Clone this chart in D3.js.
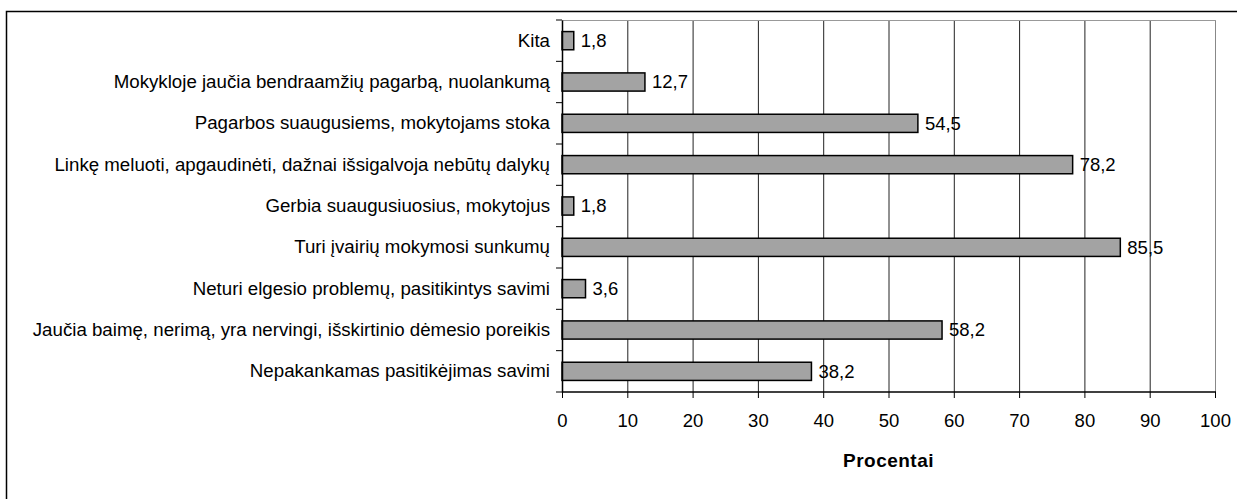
<!DOCTYPE html>
<html>
<head>
<meta charset="utf-8">
<script src="https://cdn.jsdelivr.net/npm/d3@7"></script>
<style>
  body { margin: 0; background: #fff; }
  svg { display: block; font-family: "Liberation Sans", Arial, sans-serif; }
</style>
</head>
<body>
<svg id="chart" width="1237" height="499"></svg>
<script>
// kategorijos, nuo viršaus į apačią
var categories = [
    "Kita",
    "Mokykloje jaučia bendraamžių pagarbą, nuolankumą",
    "Pagarbos suaugusiems, mokytojams stoka",
    "Linkę meluoti, apgaudinėti, dažnai išsigalvoja nebūtų dalykų",
    "Gerbia suaugusiuosius, mokytojus",
    "Turi įvairių mokymosi sunkumų",
    "Neturi elgesio problemų, pasitikintys savimi",
    "Jaučia baimę, nerimą, yra nervingi, išskirtinio dėmesio poreikis",
    "Nepakankamas pasitikėjimas savimi"
];
var values = [1.8, 12.7, 54.5, 78.2, 1.8, 85.5, 3.6, 58.2, 38.2];
var xTicks = [0, 10, 20, 30, 40, 50, 60, 70, 80, 90, 100];
var xTitle = "Procentai";

var svg = d3.select("#chart");

// išorinis rėmelis (dešinė ir apačia nukirsti)
svg.append("rect")
    .attr("x", 6.5).attr("y", 11.5)
    .attr("width", 1300).attr("height", 600)
    .attr("fill", "none")
    .attr("stroke", "#000")
    .attr("stroke-width", 1.5);

var pLeft = 562, pRight = 1215, pTop = 20, pBottom = 392;

var x = d3.scaleLinear().domain([0, 100]).range([pLeft, pRight]);
var y = d3.scaleBand().domain(categories).range([pTop, pBottom]).paddingInner(0.56).paddingOuter(0.28);

// tinklelis
svg.append("g")
    .selectAll("line")
    .data(xTicks.slice(1))
    .enter().append("line")
    .attr("x1", function (d) {return x(d) + 0.5;})
    .attr("x2", function (d) {return x(d) + 0.5;})
    .attr("y1", pTop).attr("y2", pBottom)
    .attr("stroke", function (d) {return d === 100 ? "#888" : "#222";})
    .attr("stroke-width", 1);

// viršutinė ploto riba
svg.append("line")
    .attr("x1", pLeft).attr("x2", pRight + 1)
    .attr("y1", pTop + 0.5).attr("y2", pTop + 0.5)
    .attr("stroke", "#999");

// stulpeliai
svg.append("g")
    .selectAll("rect")
    .data(values)
    .enter().append("rect")
    .attr("x", x(0))
    .attr("y", function (d, i) {return y(categories[i]);})
    .attr("width", function (d) {return x(d) - x(0);})
    .attr("height", y.bandwidth())
    .attr("fill", "#a3a3a3")
    .attr("stroke", "#000")
    .attr("stroke-width", 1.5);

// reikšmės
svg.append("g")
    .selectAll("text")
    .data(values)
    .enter().append("text")
    .attr("x", function (d) {return x(d) + 7;})
    .attr("y", function (d, i) {return y(categories[i]) + y.bandwidth() / 2;})
    .attr("dy", "0.35em")
    .style("font-size", "18.5px")
    .text(function (d) {return String(d).replace(".", ",");});

// x ašis
var xAxis = d3.axisBottom(x).tickValues(xTicks).tickSize(6).tickPadding(16).tickFormat(d3.format("d"));
var gx = svg.append("g")
    .attr("transform", "translate(0," + pBottom + ")")
    .call(xAxis);
gx.select(".domain").attr("stroke", "#000").attr("stroke-width", 1.5).attr("d", "M" + pLeft + ",0H" + (pRight + 1));
gx.selectAll(".tick line").attr("stroke", "#000");
gx.selectAll("text").style("font-size", "18.5px").attr("fill", "#000").style("font-family", "Liberation Sans, Arial, sans-serif");

// y ašis
var yAxis = d3.axisLeft(y).tickSize(0).tickPadding(12);
var gy = svg.append("g")
    .attr("transform", "translate(" + pLeft + ",0)")
    .call(yAxis);
gy.select(".domain").attr("stroke", "#000").attr("stroke-width", 1.5);
gy.selectAll("text").style("font-size", "18.7px").attr("fill", "#000").style("font-family", "Liberation Sans, Arial, sans-serif");

// kategorijų ribų brūkšneliai
var bounds = d3.range(categories.length + 1).map(function (i) {return pTop + i * (pBottom - pTop) / categories.length;});
svg.append("g")
    .selectAll("line")
    .data(bounds)
    .enter().append("line")
    .attr("x1", pLeft - 6).attr("x2", pLeft)
    .attr("y1", function (d) {return d;}).attr("y2", function (d) {return d;})
    .attr("stroke", "#000");

// ašies pavadinimas
svg.append("text")
    .attr("x", (pLeft + pRight) / 2)
    .attr("y", 467)
    .attr("text-anchor", "middle")
    .style("font-size", "19px")
    .style("font-weight", "bold")
    .style("letter-spacing", "0.5px")
    .text(xTitle);
</script>
</body>
</html>
